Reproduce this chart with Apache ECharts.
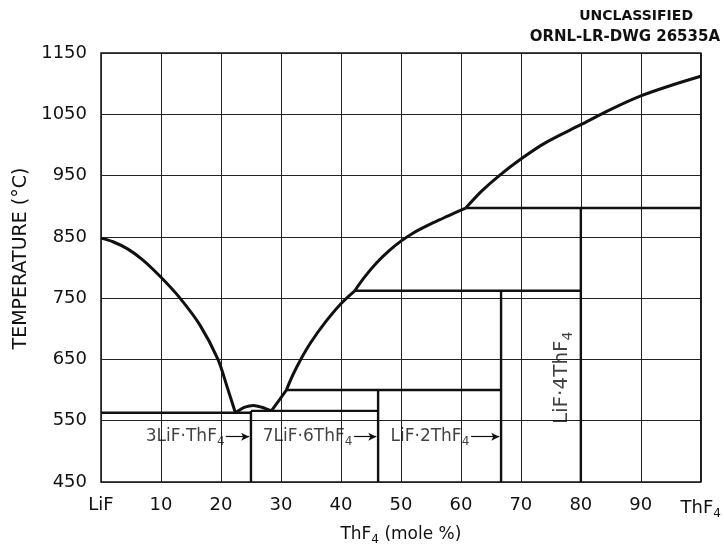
<!DOCTYPE html>
<html>
<head>
<meta charset="utf-8">
<script src="https://cdn.jsdelivr.net/npm/echarts@6/dist/echarts.min.js"></script>
<style>
  html, body { margin: 0; padding: 0; background: #fff; }
  #chart { width: 724px; height: 551px; }
</style>
</head>
<body>
<div id="chart"></div>
<script>
// Phase diagram of the LiF–ThF4 system (temperature vs. mole % ThF4)

// Temperature tick labels (°C)
const tempTicks = [450, 550, 650, 750, 850, 950, 1050, 1150];
// End-member names for the composition axis
const endMembers = ['LiF', 'ThF4'];

// Liquidus branches: [mole % ThF4, °C]
const liquidusLiF   = [[0, 848], [2, 842], [4.5, 830], [7, 812], [10, 784], [13, 752], [16.5, 706], [19.5, 650], [21, 606], [22.4, 563]];
const liquidus3to1  = [[22.4, 563], [24, 572], [25.4, 575], [26.8, 572], [28.4, 566]];
const liquidus7to6a = [[28.4, 566], [29.8, 585], [30.9, 600]];
const liquidus7to6b = [[30.9, 600], [32, 625], [33.3, 650], [35, 678], [37.5, 712], [40, 741], [42.3, 762]];
const liquidus1to2  = [[42.3, 762], [44, 785], [46, 808], [48, 827], [50, 843], [52, 856], [54.3, 868], [56.5, 878], [58.7, 888], [60.8, 897]];
const liquidusThF4  = [[60.8, 897], [63.5, 925], [66.4, 950], [70, 977], [74, 1003], [80, 1033], [85, 1058], [90, 1080], [95, 1097], [100, 1112]];

// Invariant temperatures: [from %, to %, °C]
const invariants = [[0, 25, 563], [25, 46.2, 566], [30.9, 66.7, 600], [42.3, 80, 762], [60.8, 100, 897]];
// Compound compositions: [%, upper limit °C]
const compounds = [[25, 566], [46.2, 600], [66.7, 762], [80, 897]];

// Compound names written along the bottom, with arrows to their composition lines
const compoundNames = ['3LiF·ThF{s|4}', '7LiF·6ThF{s|4}', 'LiF·2ThF{s|4}'];
const nameAnchors   = [[20.6, 524], [41.9, 524], [61.4, 524]];
const arrowSpans    = [[20.8, 24.7, 524], [42.2, 45.9, 524], [61.7, 66.4, 524]];
// Compound written vertically inside its field
const verticalName   = 'LiF·4ThF{s|4}';
const verticalAnchor = [76.9, 620];

const FONT = 'DejaVu Sans';
const INK = '#111';
const subStyle = { s: { fontFamily: FONT, fontSize: 12, color: INK, padding: [11, 0, 0, 0] } };

function curve(data, width) {
  return {
    type: 'line', data: data, smooth: 0.3, symbol: 'none', silent: true,
    lineStyle: { color: INK, width: width }, z: 5
  };
}
function segment(a, b, width) {
  return {
    type: 'line', data: [a, b], symbol: 'none', silent: true,
    lineStyle: { color: INK, width: width }, z: 4
  };
}

const series = [
  curve(liquidusLiF, 3),
  curve(liquidus3to1, 3),
  curve(liquidus7to6a, 3),
  curve(liquidus7to6b, 3),
  curve(liquidus1to2, 3),
  curve(liquidusThF4, 3)
];
invariants.forEach(r => series.push(segment([r[0], r[2]], [r[1], r[2]], 2.4)));
compounds.forEach(c => series.push(segment([c[0], 450], [c[0], c[1]], 2.4)));

// Compound name labels and arrows
series.push({
  type: 'scatter', symbolSize: 0, silent: true, z: 6,
  data: nameAnchors.map((p, i) => ({ value: p, name: compoundNames[i] })),
  label: {
    show: true, position: 'inside', align: 'right', verticalAlign: 'middle',
    formatter: p => p.name,
    fontFamily: FONT, fontSize: 17, color: INK, rich: subStyle
  },
  markLine: {
    silent: true, symbol: ['none', 'arrow'], symbolSize: [6, 8],
    label: { show: false },
    lineStyle: { color: INK, width: 1.2, type: 'solid' },
    data: arrowSpans.map(s => [{ coord: [s[0], s[2]] }, { coord: [s[1], s[2]] }])
  }
});
series.push({
  type: 'scatter', symbolSize: 0, silent: true, z: 6,
  data: [{ value: verticalAnchor, name: verticalName }],
  label: {
    show: true, position: 'inside', rotate: 90, align: 'center', verticalAlign: 'middle',
    formatter: p => p.name,
    fontFamily: FONT, fontSize: 20, color: INK,
    rich: { s: { fontFamily: FONT, fontSize: 14, color: INK, padding: [12, 0, 0, 0] } }
  }
});

const chart = echarts.init(document.getElementById('chart'), null, { renderer: 'canvas' });
chart.setOption({
  animation: false,
  backgroundColor: '#fff',
  grid: { left: 101, right: 17, top: 53, bottom: 65, show: true, borderColor: INK, borderWidth: 1.5, containLabel: false },
  xAxis: {
    type: 'value', min: 0, max: 100, interval: 10,
    name: 'ThF{s|4} (mole %)', nameLocation: 'middle', nameGap: 41,
    nameTextStyle: { fontFamily: FONT, fontSize: 17, color: INK, rich: subStyle },
    axisLine: { show: false }, axisTick: { show: false },
    axisLabel: {
      margin: 14, fontFamily: FONT, fontSize: 18, color: INK, showMinLabel: true, showMaxLabel: true,
      formatter: v => v === 0 ? endMembers[0] : (v === 100 ? 'ThF{s|4}' : String(v)),
      rich: { s: { fontFamily: FONT, fontSize: 12, color: INK, padding: [12, 0, 0, 0] } }
    },
    splitLine: { show: true, lineStyle: { color: '#222', width: 1 } }
  },
  yAxis: {
    type: 'value', min: 450, max: 1150, interval: 50,
    name: 'TEMPERATURE (°C)', nameLocation: 'middle', nameGap: 70, nameRotate: 90,
    nameTextStyle: { fontFamily: FONT, fontSize: 19, color: INK, padding: [0, 0, 0, 18] },
    axisLine: { show: false }, axisTick: { show: false },
    axisLabel: {
      margin: 14, fontFamily: FONT, fontSize: 18, color: INK, showMinLabel: true, showMaxLabel: true,
      formatter: v => tempTicks.indexOf(v) >= 0 ? String(v) : ''
    },
    splitLine: { show: true, lineStyle: { color: ['#222', 'rgba(0,0,0,0)'], width: 1 } }
  },
  graphic: [
    { type: 'text', right: 31, top: 9, style: { text: 'UNCLASSIFIED', font: 'bold 14px "DejaVu Sans"', fill: INK } },
    { type: 'text', right: 4, top: 30, style: { text: 'ORNL-LR-DWG 26535A', font: 'bold 15px "DejaVu Sans"', fill: INK } }
  ],
  series: series
});
</script>
</body>
</html>
